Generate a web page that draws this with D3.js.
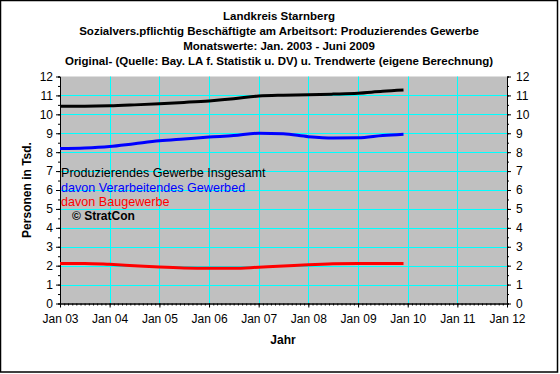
<!DOCTYPE html>
<html>
<head>
<meta charset="utf-8">
<script src="https://cdn.jsdelivr.net/npm/d3@7/dist/d3.min.js"></script>
<style>
  body { margin: 0; background: #fff; }
  svg text { font-family: "Liberation Sans", Arial, sans-serif; }
</style>
</head>
<body>
<svg id="chart" width="560" height="374"></svg>
<script>
// months of the trend points (half-yearly readings)
let months = ["2003-01", "2003-07", "2004-01", "2004-07", "2005-01", "2005-07",
  "2006-01", "2006-07", "2007-01", "2007-07", "2008-01", "2008-07",
  "2009-01", "2009-07", "2009-12"];
let insgesamt = [10.43, 10.43, 10.45, 10.50, 10.56, 10.63, 10.71, 10.82,
  10.97, 11.01, 11.03, 11.07, 11.12, 11.22, 11.28];
let verarbeitend = [8.19, 8.22, 8.30, 8.45, 8.60, 8.70, 8.80, 8.88,
  9.00, 8.97, 8.82, 8.75, 8.76, 8.88, 8.95];
let bau = [2.12, 2.12, 2.07, 2.00, 1.93, 1.88, 1.86, 1.86,
  1.92, 1.98, 2.05, 2.10, 2.12, 2.12, 2.12];
let yTicks = [0, 1, 2, 3, 4, 5, 6, 7, 8, 9, 10, 11, 12];
let titleLines = [
  "Landkreis Starnberg",
  "Sozialvers.pflichtig Beschäftigte am Arbeitsort: Produzierendes Gewerbe",
  "Monatswerte: Jan. 2003 - Juni 2009",
  "Original- (Quelle: Bay. LA f. Statistik u. DV) u. Trendwerte (eigene Berechnung)"
];
let legendItems = [
  { text: "Produzierendes Gewerbe Insgesamt", color: "#000000" },
  { text: "davon Verarbeitendes Gewerbed", color: "#0000ff" },
  { text: "davon Baugewerbe", color: "#ff0000" }
];

let parseMonth = d3.timeParse("%Y-%m");
let dates = months.map(parseMonth);

let svg = d3.select("#chart");
let plotLeft = 60, plotRight = 507, plotTop = 76.5, plotBottom = 303.5;

let x = d3.scaleTime()
  .domain([new Date(2003, 0, 1), new Date(2012, 0, 1)])
  .range([plotLeft, plotRight]);
let y = d3.scaleLinear().domain([0, 12]).range([plotBottom, plotTop]);

// outer frame
svg.append("rect")
  .attr("x", 0.5).attr("y", 0.5)
  .attr("width", 557).attr("height", 371.5)
  .attr("fill", "#fff").attr("stroke", "#000").attr("stroke-width", 1.5);

// plot area
svg.append("rect")
  .attr("x", plotLeft).attr("y", plotTop)
  .attr("width", plotRight - plotLeft).attr("height", plotBottom - plotTop)
  .attr("fill", "#c0c0c0");

// grid
svg.append("g")
  .selectAll("line")
  .data(yTicks.slice(1, -1))
  .enter()
  .append("line")
  .attr("x1", plotLeft).attr("x2", plotRight)
  .attr("y1", (d) => Math.round(y(d)) + 0.5)
  .attr("y2", (d) => Math.round(y(d)) + 0.5)
  .attr("stroke", "#00ffff");

svg.append("g")
  .selectAll("line")
  .data(x.ticks(d3.timeYear.every(1)).slice(1, -1))
  .enter()
  .append("line")
  .attr("x1", (d) => Math.round(x(d)) + 0.5)
  .attr("x2", (d) => Math.round(x(d)) + 0.5)
  .attr("y1", plotTop).attr("y2", plotBottom)
  .attr("stroke", "#00ffff");

// axes
let axisStyle = (g) => {
  g.selectAll("text")
    .attr("font-size", "12px")
    .attr("fill", "#000");
  g.selectAll("line, path").attr("stroke", "#000");
};

svg.append("g")
  .attr("transform", `translate(${plotLeft},0)`)
  .call(d3.axisLeft(y).tickValues(d3.range(0, 12.01, 0.5)).tickSize(2).tickFormat(""))
  .call(axisStyle);
svg.append("g")
  .attr("transform", `translate(${plotLeft},0)`)
  .call(d3.axisLeft(y).tickValues(yTicks).tickSize(4).tickPadding(3).tickSizeOuter(0))
  .call(axisStyle);

svg.append("g")
  .attr("transform", `translate(${plotRight},0)`)
  .call(d3.axisRight(y).tickValues(d3.range(0, 12.01, 0.5)).tickSize(2).tickFormat(""))
  .call(axisStyle);
svg.append("g")
  .attr("transform", `translate(${plotRight},0)`)
  .call(d3.axisRight(y).tickValues(yTicks).tickSize(4).tickPadding(5).tickSizeOuter(0))
  .call(axisStyle);

svg.append("g")
  .attr("transform", `translate(0,${plotBottom})`)
  .call(d3.axisBottom(x).ticks(d3.timeMonth.every(1)).tickSize(2).tickFormat(""))
  .call(axisStyle);
svg.append("g")
  .attr("transform", `translate(0,${plotBottom})`)
  .call(d3.axisBottom(x).ticks(d3.timeYear.every(1)).tickSize(4).tickPadding(7)
    .tickSizeOuter(0).tickFormat(d3.timeFormat("Jan %y")))
  .call(axisStyle);

// lines
let series = [
  { values: insgesamt, color: "#000000" },
  { values: verarbeitend, color: "#0000ff" },
  { values: bau, color: "#ff0000" }
];
let line = d3.line()
  .x((d) => x(d.date))
  .y((d) => y(d.value))
  .curve(d3.curveMonotoneX);

svg.append("g")
  .selectAll("path")
  .data(series)
  .enter()
  .append("path")
  .attr("d", (s) => line(s.values.map((v, i) => ({ date: dates[i], value: v }))))
  .attr("fill", "none")
  .attr("stroke", (s) => s.color)
  .attr("stroke-width", 3);

// titles
svg.append("g")
  .selectAll("text")
  .data(titleLines)
  .enter()
  .append("text")
  .attr("x", 279)
  .attr("y", (d, i) => 19.5 + i * 15.3)
  .attr("text-anchor", "middle")
  .attr("font-size", "11.5px")
  .attr("font-weight", "bold")
  .text((d) => d);

// legend texts
svg.append("g")
  .selectAll("text")
  .data(legendItems)
  .enter()
  .append("text")
  .attr("x", 61)
  .attr("y", (d, i) => 177 + i * 14.6)
  .attr("font-size", "12.6px")
  .attr("fill", (d) => d.color)
  .text((d) => d.text);

svg.append("text")
  .attr("x", 72).attr("y", 220)
  .attr("font-size", "12px")
  .attr("font-weight", "bold")
  .text("© StratCon");

// axis titles
svg.append("text")
  .attr("x", 283).attr("y", 344)
  .attr("text-anchor", "middle")
  .attr("font-size", "12px")
  .attr("font-weight", "bold")
  .text("Jahr");

svg.append("text")
  .attr("transform", "translate(31,190) rotate(-90)")
  .attr("text-anchor", "middle")
  .attr("font-size", "12px")
  .attr("font-weight", "bold")
  .text("Personen in Tsd.");
</script>
</body>
</html>
